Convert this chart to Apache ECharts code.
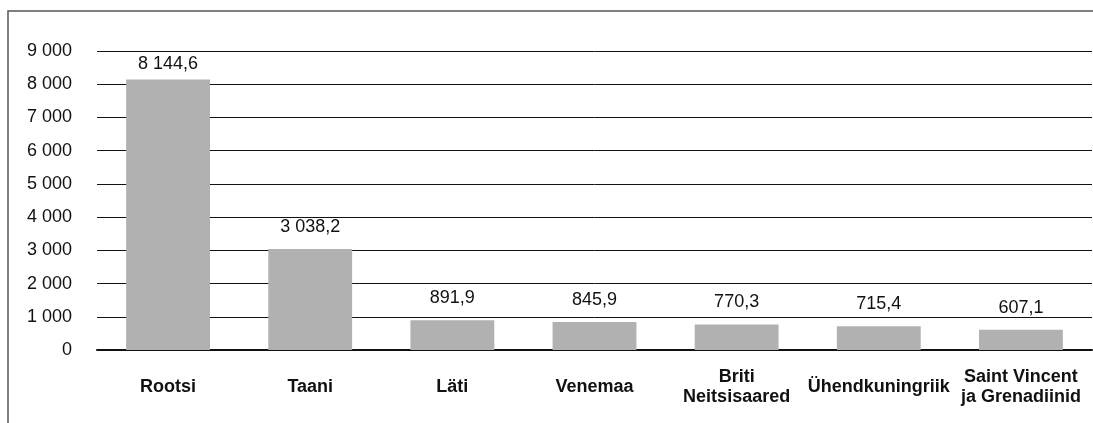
<!DOCTYPE html>
<html>
<head>
<meta charset="utf-8">
<script src="https://cdn.jsdelivr.net/npm/echarts@6/dist/echarts.min.js"></script>
<style>
  html, body { margin: 0; padding: 0; background: #fff; }
  #chart { width: 1093px; height: 423px; }
</style>
</head>
<body>
<div id="chart"></div>
<script>
const categories = ['Rootsi', 'Taani', 'Läti', 'Venemaa', 'Briti\nNeitsisaared', 'Ühendkuningriik', 'Saint Vincent\nja Grenadiinid'];
const values = [8144.6, 3038.2, 891.9, 845.9, 770.3, 715.4, 607.1];

// 8 144,6 style: space for thousands, comma for decimals
function fmtNum(v, dec) {
  let s = v.toFixed(dec).split('.');
  let int = s[0].replace(/\B(?=(\d{3})+(?!\d))/g, ' ');
  return s[1] ? int + ',' + s[1] : int;
}

let myChart = echarts.init(document.getElementById('chart'));
myChart.setOption({
  animation: false,
  textStyle: { fontFamily: 'Liberation Sans, Arial, sans-serif' },
  graphic: [{
    type: 'rect',
    shape: { x: 8, y: 11, width: 1200, height: 600 },
    style: { fill: 'none', stroke: '#555', lineWidth: 1.5 },
    silent: true
  }],
  grid: { left: 97, right: 1, top: 51, bottom: 73 },
  xAxis: {
    type: 'category',
    data: categories,
    axisLine: { lineStyle: { color: '#111', width: 2 } },
    axisTick: { show: false },
    axisLabel: {
      interval: 0,
      margin: 37,
      verticalAlign: 'middle',
      lineHeight: 20,
      fontSize: 18,
      fontWeight: 'bold',
      color: '#111'
    }
  },
  yAxis: {
    type: 'value',
    min: 0,
    max: 9000,
    interval: 1000,
    axisLine: { show: false },
    axisTick: { show: false },
    splitLine: { lineStyle: { color: '#111', width: 1 } },
    axisLabel: {
      margin: 25,
      fontSize: 18,
      color: '#111',
      formatter: v => fmtNum(v, 0)
    }
  },
  series: [{
    type: 'bar',
    // tallest bar's label sits closer so it stays under the top gridline
    data: values.map((v, i) => i === 0 ? { value: v, label: { distance: 6 } } : v),
    barWidth: '59%',
    itemStyle: { color: '#b1b1b1' },
    label: {
      show: true,
      position: 'top',
      distance: 13,
      fontSize: 18,
      color: '#111',
      formatter: p => fmtNum(p.value, 1)
    }
  }]
});
</script>
</body>
</html>
